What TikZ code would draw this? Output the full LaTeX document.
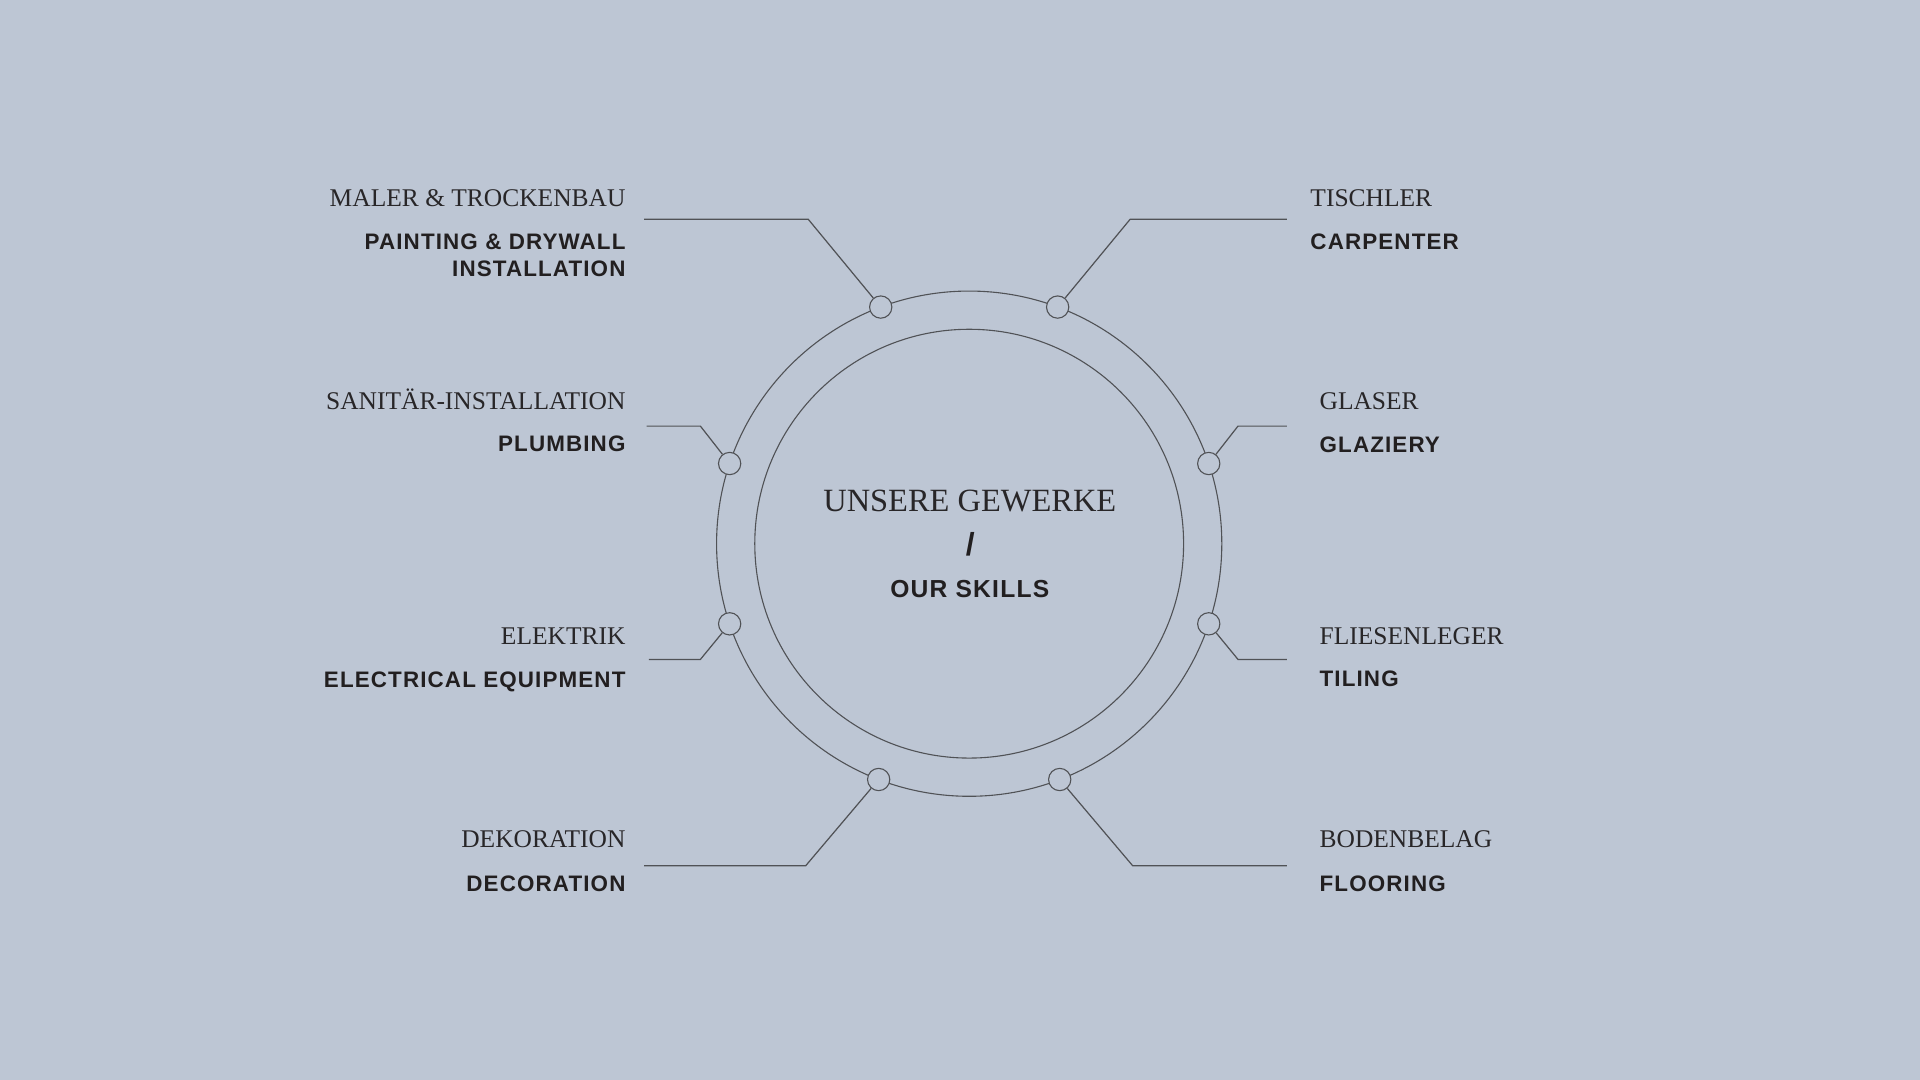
\documentclass[tikz,border=0pt]{standalone}
\usepackage{fontspec}
\setmainfont{Liberation Serif}
\newfontfamily\skillsans[LetterSpace=5.0]{Liberation Sans}
\definecolor{bgblue}{RGB}{189,198,212}
\definecolor{inkgray}{RGB}{80,82,86}
\definecolor{textdark}{RGB}{40,38,40}
\definecolor{textbold}{RGB}{34,31,32}
\begin{document}
\begin{tikzpicture}[x=1pt,y=-1pt,
    ring/.style={draw=inkgray,line width=0.9pt},
    dot/.style={circle,draw=inkgray,fill=bgblue,line width=0.9pt,minimum size=18.2pt,inner sep=0pt},
    leader/.style={draw=inkgray,line width=1pt},
    de/.style={inner sep=0pt,text=textdark,font=\fontsize{20.8}{25}\selectfont},
    en/.style={inner sep=0pt,text=textbold,align=right,font=\skillsans\bfseries\fontsize{18.3}{22.4}\selectfont},
    enl/.style={en,align=left}]
            \fill[bgblue] (0,0) rectangle (1568,882);
            \coordinate (c) at (791.5,444);
            \draw[ring] (c) circle[radius=206.3pt];
            \draw[ring] (c) circle[radius=175.1pt];
            % centre title
            \node[de,font=\fontsize{26.5}{30}\selectfont,anchor=base] (gewerke) at (792,418) {UNSERE GEWERKE};
            \node[inner sep=0pt,text=textbold,font=\skillsans\bfseries\fontsize{26}{30}\selectfont,anchor=base] (slash) at (792.5,454) {/};
            \node[en,font=\skillsans\bfseries\fontsize{20.1}{24}\selectfont,anchor=base] (skills) at (792,488) {OUR SKILLS};
            % dots on the outer ring
            \path (c) ++(110.5:206.3pt) node[dot] (dtl) {};
            \path (c) ++(69.5:206.3pt) node[dot] (dtr) {};
            \path (c) ++(161.5:206.3pt) node[dot] (dml) {};
            \path (c) ++(18.5:206.3pt) node[dot] (dmr) {};
            \path (c) ++(198.5:206.3pt) node[dot] (dll) {};
            \path (c) ++(-18.5:206.3pt) node[dot] (dlr) {};
            \path (c) ++(249:206.3pt) node[dot] (dbl) {};
            \path (c) ++(291:206.3pt) node[dot] (dbr) {};
            % leader corners and ends
            \coordinate (ktl) at (660,179); \coordinate (etl) at (526,179);
            \coordinate (ktr) at (923,179); \coordinate (etr) at (1051,179);
            \coordinate (kml) at (572,348); \coordinate (eml) at (528,348);
            \coordinate (kmr) at (1011,348); \coordinate (emr) at (1051,348);
            \coordinate (kll) at (572,538.5); \coordinate (ell) at (530,538.5);
            \coordinate (klr) at (1011,538.5); \coordinate (elr) at (1051,538.5);
            \coordinate (kbl) at (658,707); \coordinate (ebl) at (526,707);
            \coordinate (kbr) at (925,707); \coordinate (ebr) at (1051,707);
            \draw[leader] (dtl) -- (ktl) -- (etl);
            \draw[leader] (dtr) -- (ktr) -- (etr);
            \draw[leader] (dml) -- (kml) -- (eml);
            \draw[leader] (dmr) -- (kmr) -- (emr);
            \draw[leader] (dll) -- (kll) -- (ell);
            \draw[leader] (dlr) -- (klr) -- (elr);
            \draw[leader] (dbl) -- (kbl) -- (ebl);
            \draw[leader] (dbr) -- (kbr) -- (ebr);
            % left labels
            \node[de,anchor=base east] (maler) at (511,168.8) {MALER \& TROCKENBAU};
            \node[en,anchor=base east] (painting) at (511,226) {PAINTING \& DRYWALL\\INSTALLATION};
            \node[de,anchor=base east] (sanitaer) at (511,334.3) {SANITÄR-INSTALLATION};
            \node[en,anchor=base east] (plumbing) at (511,368.9) {PLUMBING};
            \node[de,anchor=base east] (elektrik) at (511,526.2) {ELEKTRIK};
            \node[en,anchor=base east] (electrical) at (511,561.3) {ELECTRICAL EQUIPMENT};
            \node[de,anchor=base east] (dekoration) at (511,692) {DEKORATION};
            \node[en,anchor=base east] (decoration) at (511,727.7) {DECORATION};
            % right labels
            \node[de,anchor=base west] (tischler) at (1070,168.8) {TISCHLER};
            \node[enl,anchor=base west] (carpenter) at (1070,203.6) {CARPENTER};
            \node[de,anchor=base west] (glaser) at (1077.5,334.3) {GLASER};
            \node[enl,anchor=base west] (glaziery) at (1077.5,369.4) {GLAZIERY};
            \node[de,anchor=base west] (fliesen) at (1077.5,526.2) {FLIESENLEGER};
            \node[enl,anchor=base west] (tiling) at (1077.5,560.8) {TILING};
            \node[de,anchor=base west] (boden) at (1077.5,692) {BODENBELAG};
            \node[enl,anchor=base west] (flooring) at (1077.5,727.7) {FLOORING};
        \end{tikzpicture}
\end{document}
